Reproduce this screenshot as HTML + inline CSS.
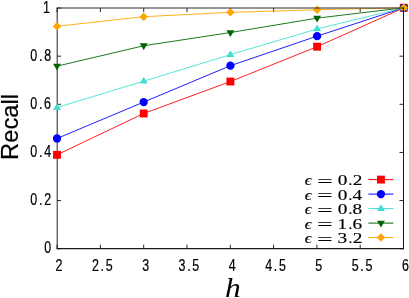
<!DOCTYPE html>
<html><head><meta charset="utf-8"><title>Recall vs h</title>
<style>
html,body{margin:0;padding:0;background:#fff;}
body{width:409px;height:298px;overflow:hidden;}
svg{display:block;will-change:transform;}
text{fill:#000;}
.t{font-family:"Liberation Sans",sans-serif;}
.s{font-family:"Liberation Serif",serif;}
.i{font-family:"Liberation Serif",serif;font-style:italic;}
</style></head><body>
<svg width="409" height="298" viewBox="0 0 409 298">
<rect width="409" height="298" fill="#fff"/>

<path d="M57.2,248.7V7.550000000000001" fill="none" stroke="#3a3a3a" stroke-width="1.1"/>
<path d="M404.0,248.6H56.65" fill="none" stroke="#1c1c1c" stroke-width="1.1"/>
<path d="M57.1,248.70h4.0M403.5,248.70h-4.0" stroke="#111" stroke-width="0.9" fill="none"/>
<text class="t" transform="translate(44.14,253.40) scale(0.75,1)" font-size="16.6" stroke="#000" stroke-width="0.22">0</text>
<path d="M57.1,200.57h4.0M403.5,200.57h-4.0" stroke="#111" stroke-width="0.9" fill="none"/>
<text class="t" transform="translate(30.34,205.27) scale(0.75,1)" font-size="16.6" stroke="#000" stroke-width="0.22">0</text><text class="t" transform="translate(38.97,205.27) scale(0.75,1)" font-size="16.6" stroke="#000" stroke-width="0.22">.</text><text class="t" transform="translate(44.14,205.27) scale(0.75,1)" font-size="16.6" stroke="#000" stroke-width="0.22">2</text>
<path d="M57.1,152.44h4.0M403.5,152.44h-4.0" stroke="#111" stroke-width="0.9" fill="none"/>
<text class="t" transform="translate(30.34,157.14) scale(0.75,1)" font-size="16.6" stroke="#000" stroke-width="0.22">0</text><text class="t" transform="translate(38.97,157.14) scale(0.75,1)" font-size="16.6" stroke="#000" stroke-width="0.22">.</text><text class="t" transform="translate(44.18,157.14) scale(0.75,1)" font-size="16.6" stroke="#000" stroke-width="0.22">4</text>
<path d="M57.1,104.31h4.0M403.5,104.31h-4.0" stroke="#111" stroke-width="0.9" fill="none"/>
<text class="t" transform="translate(30.34,109.01) scale(0.75,1)" font-size="16.6" stroke="#000" stroke-width="0.22">0</text><text class="t" transform="translate(38.97,109.01) scale(0.75,1)" font-size="16.6" stroke="#000" stroke-width="0.22">.</text><text class="t" transform="translate(44.10,109.01) scale(0.75,1)" font-size="16.6" stroke="#000" stroke-width="0.22">6</text>
<path d="M57.1,56.18h4.0M403.5,56.18h-4.0" stroke="#111" stroke-width="0.9" fill="none"/>
<text class="t" transform="translate(30.34,60.88) scale(0.75,1)" font-size="16.6" stroke="#000" stroke-width="0.22">0</text><text class="t" transform="translate(38.97,60.88) scale(0.75,1)" font-size="16.6" stroke="#000" stroke-width="0.22">.</text><text class="t" transform="translate(44.14,60.88) scale(0.75,1)" font-size="16.6" stroke="#000" stroke-width="0.22">8</text>
<path d="M57.1,8.05h4.0M403.5,8.05h-4.0" stroke="#111" stroke-width="0.9" fill="none"/>
<text class="t" transform="translate(42.97,12.75) scale(0.75,1)" font-size="16.6" stroke="#000" stroke-width="0.22">1</text>
<path d="M57.10,248.7v-4.0M57.10,8.05v4.0" stroke="#111" stroke-width="0.9" fill="none"/>
<text class="t" transform="translate(55.54,270.90) scale(0.75,1)" font-size="16.6" stroke="#000" stroke-width="0.22">2</text>
<path d="M100.40,248.7v-4.0M100.40,8.05v4.0" stroke="#111" stroke-width="0.9" fill="none"/>
<text class="t" transform="translate(91.94,270.90) scale(0.75,1)" font-size="16.6" stroke="#000" stroke-width="0.22">2</text><text class="t" transform="translate(100.57,270.90) scale(0.75,1)" font-size="16.6" stroke="#000" stroke-width="0.22">.</text><text class="t" transform="translate(105.75,270.90) scale(0.75,1)" font-size="16.6" stroke="#000" stroke-width="0.22">5</text>
<path d="M143.70,248.7v-4.0M143.70,8.05v4.0" stroke="#111" stroke-width="0.9" fill="none"/>
<text class="t" transform="translate(142.17,270.90) scale(0.75,1)" font-size="16.6" stroke="#000" stroke-width="0.22">3</text>
<path d="M187.00,248.7v-4.0M187.00,8.05v4.0" stroke="#111" stroke-width="0.9" fill="none"/>
<text class="t" transform="translate(178.57,270.90) scale(0.75,1)" font-size="16.6" stroke="#000" stroke-width="0.22">3</text><text class="t" transform="translate(187.17,270.90) scale(0.75,1)" font-size="16.6" stroke="#000" stroke-width="0.22">.</text><text class="t" transform="translate(192.35,270.90) scale(0.75,1)" font-size="16.6" stroke="#000" stroke-width="0.22">5</text>
<path d="M230.30,248.7v-4.0M230.30,8.05v4.0" stroke="#111" stroke-width="0.9" fill="none"/>
<text class="t" transform="translate(228.78,270.90) scale(0.75,1)" font-size="16.6" stroke="#000" stroke-width="0.22">4</text>
<path d="M273.60,248.7v-4.0M273.60,8.05v4.0" stroke="#111" stroke-width="0.9" fill="none"/>
<text class="t" transform="translate(265.18,270.90) scale(0.75,1)" font-size="16.6" stroke="#000" stroke-width="0.22">4</text><text class="t" transform="translate(273.77,270.90) scale(0.75,1)" font-size="16.6" stroke="#000" stroke-width="0.22">.</text><text class="t" transform="translate(278.95,270.90) scale(0.75,1)" font-size="16.6" stroke="#000" stroke-width="0.22">5</text>
<path d="M316.90,248.7v-4.0M316.90,8.05v4.0" stroke="#111" stroke-width="0.9" fill="none"/>
<text class="t" transform="translate(315.35,270.90) scale(0.75,1)" font-size="16.6" stroke="#000" stroke-width="0.22">5</text>
<path d="M360.20,248.7v-4.0M360.20,8.05v4.0" stroke="#111" stroke-width="0.9" fill="none"/>
<text class="t" transform="translate(351.75,270.90) scale(0.75,1)" font-size="16.6" stroke="#000" stroke-width="0.22">5</text><text class="t" transform="translate(360.37,270.90) scale(0.75,1)" font-size="16.6" stroke="#000" stroke-width="0.22">.</text><text class="t" transform="translate(365.55,270.90) scale(0.75,1)" font-size="16.6" stroke="#000" stroke-width="0.22">5</text>
<path d="M403.50,248.7v-4.0M403.50,8.05v4.0" stroke="#111" stroke-width="0.9" fill="none"/>
<text class="t" transform="translate(401.90,270.90) scale(0.75,1)" font-size="16.6" stroke="#000" stroke-width="0.22">6</text>
<polyline points="57.00,154.80 143.70,113.49 230.40,81.54 317.10,46.71 403.80,7.80" fill="none" stroke="#ff0000" stroke-width="0.88"/>
<rect x="53.05" y="150.85" width="7.90" height="7.90" fill="#ff0000"/>
<rect x="139.75" y="109.54" width="7.90" height="7.90" fill="#ff0000"/>
<rect x="226.45" y="77.59" width="7.90" height="7.90" fill="#ff0000"/>
<rect x="313.15" y="42.76" width="7.90" height="7.90" fill="#ff0000"/>
<rect x="399.85" y="3.85" width="7.90" height="7.90" fill="#ff0000"/>
<polyline points="57.00,138.47 143.70,102.08 230.40,65.69 317.10,36.14 403.80,7.80" fill="none" stroke="#0000ff" stroke-width="0.88"/>
<circle cx="57.00" cy="138.47" r="4.15" fill="#0000ff"/>
<circle cx="143.70" cy="102.08" r="4.15" fill="#0000ff"/>
<circle cx="230.40" cy="65.69" r="4.15" fill="#0000ff"/>
<circle cx="317.10" cy="36.14" r="4.15" fill="#0000ff"/>
<circle cx="403.80" cy="7.80" r="4.15" fill="#0000ff"/>
<polyline points="57.00,107.48 143.70,81.18 230.40,54.64 317.10,28.94 403.80,7.80" fill="none" stroke="#40e0d0" stroke-width="0.88"/>
<polygon points="57.00,103.08 60.95,109.88 53.05,109.88" fill="#40e0d0"/>
<polygon points="143.70,76.78 147.65,83.58 139.75,83.58" fill="#40e0d0"/>
<polygon points="230.40,50.24 234.35,57.04 226.45,57.04" fill="#40e0d0"/>
<polygon points="317.10,24.54 321.05,31.34 313.15,31.34" fill="#40e0d0"/>
<polygon points="403.80,3.40 407.75,10.20 399.85,10.20" fill="#40e0d0"/>
<polyline points="57.00,66.17 143.70,45.75 230.40,32.54 317.10,18.13 403.80,7.80" fill="none" stroke="#006400" stroke-width="0.88"/>
<polygon points="57.00,70.57 60.95,63.77 53.05,63.77" fill="#006400"/>
<polygon points="143.70,50.15 147.65,43.35 139.75,43.35" fill="#006400"/>
<polygon points="230.40,36.94 234.35,30.14 226.45,30.14" fill="#006400"/>
<polygon points="317.10,22.53 321.05,15.73 313.15,15.73" fill="#006400"/>
<polygon points="403.80,12.20 407.75,5.40 399.85,5.40" fill="#006400"/>
<polyline points="57.00,26.30 143.70,16.69 230.40,12.36 317.10,9.72 403.80,7.80" fill="none" stroke="#ffa500" stroke-width="0.88"/>
<polygon points="57.00,22.05 61.25,26.30 57.00,30.55 52.75,26.30" fill="#ffa500"/>
<polygon points="143.70,12.44 147.95,16.69 143.70,20.94 139.45,16.69" fill="#ffa500"/>
<polygon points="230.40,8.11 234.65,12.36 230.40,16.61 226.15,12.36" fill="#ffa500"/>
<polygon points="317.10,5.47 321.35,9.72 317.10,13.97 312.85,9.72" fill="#ffa500"/>
<polygon points="403.80,3.55 408.05,7.80 403.80,12.05 399.55,7.80" fill="#ffa500"/>
<path d="M57.1,8.05H403.5" fill="none" stroke="#2a2a2a" stroke-width="1.05"/>
<path d="M403.5,7.550000000000001V249.1" fill="none" stroke="#161616" stroke-width="1.02"/>
<text class="i" transform="translate(304.73,185.40) scale(1.22,1)" font-size="14" stroke="#000" stroke-width="0.16">ϵ</text>
<text class="s" transform="translate(317.22,186.70) scale(1.6,1)" font-size="17" stroke="#000" stroke-width="0.15">=</text>
<text class="s" transform="translate(337.68,185.10) scale(1.26,1)" font-size="15.3" stroke="#000" stroke-width="0.16">0</text>
<text class="s" transform="translate(348.20,185.10) scale(1.1,1)" font-size="15.3" stroke="#000" stroke-width="0.16">.</text>
<text class="s" transform="translate(352.69,185.10) scale(1.26,1)" font-size="15.3" stroke="#000" stroke-width="0.16">2</text>
<path d="M368.4,179.60H393.4" stroke="#ff0000" stroke-width="1" fill="none"/>
<rect x="377.00" y="175.65" width="7.90" height="7.90" fill="#ff0000"/>
<text class="i" transform="translate(304.73,199.90) scale(1.22,1)" font-size="14" stroke="#000" stroke-width="0.16">ϵ</text>
<text class="s" transform="translate(317.22,201.20) scale(1.6,1)" font-size="17" stroke="#000" stroke-width="0.15">=</text>
<text class="s" transform="translate(337.68,199.60) scale(1.26,1)" font-size="15.3" stroke="#000" stroke-width="0.16">0</text>
<text class="s" transform="translate(348.20,199.60) scale(1.1,1)" font-size="15.3" stroke="#000" stroke-width="0.16">.</text>
<text class="s" transform="translate(352.54,199.60) scale(1.26,1)" font-size="15.3" stroke="#000" stroke-width="0.16">4</text>
<path d="M368.4,194.10H393.4" stroke="#0000ff" stroke-width="1" fill="none"/>
<circle cx="380.95" cy="194.10" r="4.15" fill="#0000ff"/>
<text class="i" transform="translate(304.73,214.40) scale(1.22,1)" font-size="14" stroke="#000" stroke-width="0.16">ϵ</text>
<text class="s" transform="translate(317.22,215.70) scale(1.6,1)" font-size="17" stroke="#000" stroke-width="0.15">=</text>
<text class="s" transform="translate(337.68,214.10) scale(1.26,1)" font-size="15.3" stroke="#000" stroke-width="0.16">0</text>
<text class="s" transform="translate(348.20,214.10) scale(1.1,1)" font-size="15.3" stroke="#000" stroke-width="0.16">.</text>
<text class="s" transform="translate(352.58,214.10) scale(1.26,1)" font-size="15.3" stroke="#000" stroke-width="0.16">8</text>
<path d="M368.4,208.60H393.4" stroke="#40e0d0" stroke-width="1" fill="none"/>
<polygon points="380.95,204.20 384.90,211.00 377.00,211.00" fill="#40e0d0"/>
<text class="i" transform="translate(304.73,228.90) scale(1.22,1)" font-size="14" stroke="#000" stroke-width="0.16">ϵ</text>
<text class="s" transform="translate(317.22,230.20) scale(1.6,1)" font-size="17" stroke="#000" stroke-width="0.15">=</text>
<text class="s" transform="translate(337.41,228.60) scale(1.26,1)" font-size="15.3" stroke="#000" stroke-width="0.16">1</text>
<text class="s" transform="translate(348.20,228.60) scale(1.1,1)" font-size="15.3" stroke="#000" stroke-width="0.16">.</text>
<text class="s" transform="translate(352.45,228.60) scale(1.26,1)" font-size="15.3" stroke="#000" stroke-width="0.16">6</text>
<path d="M368.4,223.10H393.4" stroke="#006400" stroke-width="1" fill="none"/>
<polygon points="380.95,227.50 384.90,220.70 377.00,220.70" fill="#006400"/>
<text class="i" transform="translate(304.73,243.40) scale(1.22,1)" font-size="14" stroke="#000" stroke-width="0.16">ϵ</text>
<text class="s" transform="translate(317.22,244.70) scale(1.6,1)" font-size="17" stroke="#000" stroke-width="0.15">=</text>
<text class="s" transform="translate(337.60,243.10) scale(1.26,1)" font-size="15.3" stroke="#000" stroke-width="0.16">3</text>
<text class="s" transform="translate(348.20,243.10) scale(1.1,1)" font-size="15.3" stroke="#000" stroke-width="0.16">.</text>
<text class="s" transform="translate(352.69,243.10) scale(1.26,1)" font-size="15.3" stroke="#000" stroke-width="0.16">2</text>
<path d="M368.4,237.60H393.4" stroke="#ffa500" stroke-width="1" fill="none"/>
<polygon points="380.95,233.35 385.20,237.60 380.95,241.85 376.70,237.60" fill="#ffa500"/>
<text class="t" transform="translate(18.2,127.0) rotate(-90) scale(1.03,1)" text-anchor="middle" font-size="23" stroke="#000" stroke-width="0.2">Recall</text>
<text class="i" transform="translate(225.12,296.50) scale(1.14,1)" font-size="27.6">h</text>
</svg></body></html>
